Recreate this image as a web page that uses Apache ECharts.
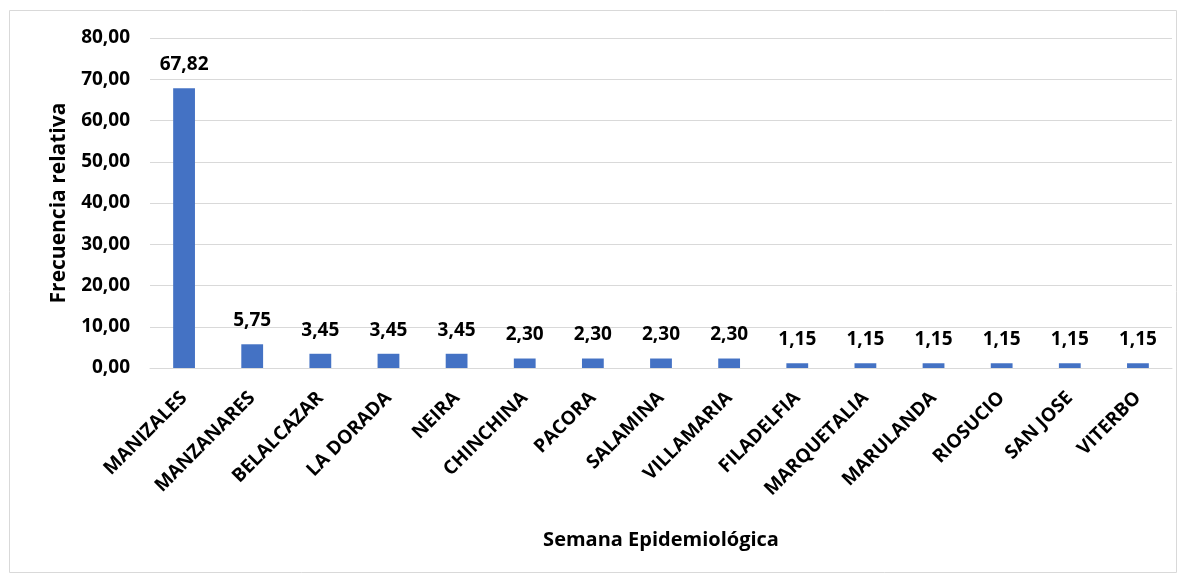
<!DOCTYPE html>
<html><head><meta charset="utf-8">
<script src="https://cdn.jsdelivr.net/npm/echarts@6/dist/echarts.min.js"></script>
<style>html,body{margin:0;padding:0;background:#fff}#c{width:1184px;height:575px}</style>
</head><body><div id="c"></div>
<script>
const categories = ['MANIZALES','MANZANARES','BELALCAZAR','LA DORADA','NEIRA','CHINCHINA','PACORA','SALAMINA','VILLAMARIA','FILADELFIA','MARQUETALIA','MARULANDA','RIOSUCIO','SAN JOSE','VITERBO'];
const values = [67.82,5.75,3.45,3.45,3.45,2.30,2.30,2.30,2.30,1.15,1.15,1.15,1.15,1.15,1.15];
const yTicks = {min:0, max:80, interval:10};
const fmt = v => Number(v).toFixed(2).replace('.', ',');
const FONT = '"Open Sans", "Noto Sans", sans-serif';
const chart = echarts.init(document.getElementById('c'));
chart.setOption({
  animation:false,
  textStyle:{fontFamily:FONT},
  graphic:[{type:'rect',shape:{x:9.5,y:10.5,width:1167,height:562},style:{fill:'none',stroke:'#d9d9d9',lineWidth:1},silent:true}],
  grid:{left:150,right:12,top:38,bottom:207,containLabel:false},
  xAxis:{type:'category',data:categories,
    axisLine:{lineStyle:{color:'#d9d9d9'}},axisTick:{show:false},
    axisLabel:{rotate:45,interval:0,fontSize:19,fontWeight:'bold',color:'#000',fontFamily:FONT,margin:27},
    name:'Semana Epidemiológica',nameLocation:'middle',nameGap:162,
    nameTextStyle:{fontSize:20,fontWeight:'bold',color:'#000',fontFamily:FONT}},
  yAxis:{type:'value',min:yTicks.min,max:yTicks.max,interval:yTicks.interval,
    axisLine:{show:false},axisTick:{show:false},
    splitLine:{lineStyle:{color:'#d9d9d9'}},
    axisLabel:{formatter:fmt,fontSize:19,fontWeight:'bold',color:'#000',fontFamily:FONT,margin:20},
    name:'Frecuencia relativa',nameLocation:'middle',nameGap:80,
    nameTextStyle:{fontSize:21,fontWeight:'bold',color:'#000',fontFamily:FONT}},
  series:[{type:'bar',data:values,barWidth:'32%',itemStyle:{color:'#4472c4'},
    label:{show:true,position:'top',distance:14,formatter:p=>fmt(p.value),fontSize:19,fontWeight:'bold',color:'#000',fontFamily:FONT}}]
});
</script></body></html>
